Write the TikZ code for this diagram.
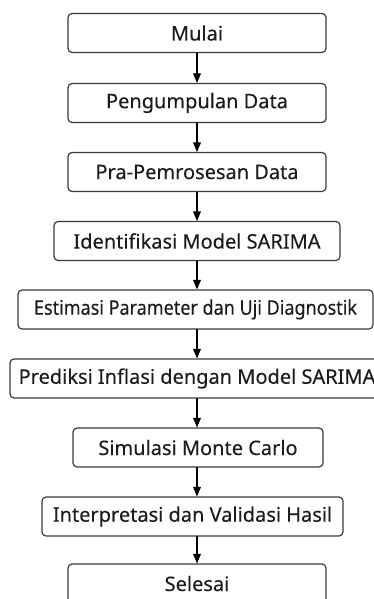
\documentclass[tikz,border=0pt]{standalone}
\usepackage{fontspec}
\setmainfont[FakeBold=0.2]{Noto Sans}
\usepackage{graphicx}
\usepackage{tikz}
\tikzset{>=latex}
\usetikzlibrary{shapes,arrows}
\definecolor{boxline}{HTML}{3A3A3A}
\definecolor{boxtext}{HTML}{1C1C1C}
\tikzset{
	stepbox/.style={draw=boxline, rounded corners=4pt, line width=1.2pt, minimum height=39pt, inner xsep=6pt, text=boxtext, font=\fontsize{20}{24}\selectfont\bfseries},
	flowarrow/.style={->, line width=1.2pt, color=black}
}

\begin{document}
\begin{tikzpicture}[line cap=round,line join=round,>=triangle 45,x=1pt,y=1pt]
			\useasboundingbox (0,0) rectangle (374,-599);
			\coordinate (axis) at (197,0);
			% langkah-langkah
			\node[stepbox, minimum width=258pt] (mulai) at (197,-33) {Mulai};
			\node[stepbox, minimum width=258pt] (kumpul) at (197,-103) {Pengumpulan Data};
			\node[stepbox, minimum width=258pt] (praproses) at (197,-172) {Pra-Pemrosesan Data};
			\node[stepbox, minimum width=286pt] (identifikasi) at (197,-241) {Identifikasi Model SARIMA};
			\node[stepbox, minimum width=355pt] (estimasi) at (195.5,-309.5) {\scalebox{0.9}[1]{Estimasi Parameter dan Uji Diagnostik}};
			\node[stepbox, minimum width=374pt] (prediksi) at (197,-378.5) {Prediksi Inflasi dengan Model SARIMA};
			\node[stepbox, minimum width=250pt] (simulasi) at (198,-447.5) {Simulasi Monte Carlo};
			\node[stepbox, minimum width=301pt] (validasi) at (192.5,-516.5) {Interpretasi dan Validasi Hasil};
			\node[stepbox, minimum width=258pt] (selesai) at (197,-583.5) {Selesai};
			% panah
			\draw[flowarrow] (mulai.south -| axis) -- (kumpul.north -| axis);
			\draw[flowarrow] (kumpul.south -| axis) -- (praproses.north -| axis);
			\draw[flowarrow] (praproses.south -| axis) -- (identifikasi.north -| axis);
			\draw[flowarrow] (identifikasi.south -| axis) -- (estimasi.north -| axis);
			\draw[flowarrow] (estimasi.south -| axis) -- (prediksi.north -| axis);
			\draw[flowarrow] (prediksi.south -| axis) -- (simulasi.north -| axis);
			\draw[flowarrow] (simulasi.south -| axis) -- (validasi.north -| axis);
			\draw[flowarrow] (validasi.south -| axis) -- (selesai.north -| axis);
\end{tikzpicture}
\end{document}
